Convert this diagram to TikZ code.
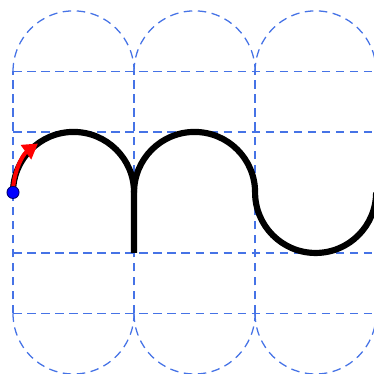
\documentclass[tikz,border=0pt]{standalone}
\usetikzlibrary{arrows.meta}
\definecolor{gridblue}{RGB}{70,115,230}
\tikzset{
  guide/.style={draw=gridblue, line width=0.6pt, dash pattern=on 4pt off 2.6pt},
  stroke/.style={draw=black, line width=2.9pt},
  arrowstroke/.style={draw=red, line width=1.9pt, -{Triangle[length=7pt,width=8pt]}},
}
\begin{document}
\begin{tikzpicture}
\useasboundingbox (-0.215,-3.0) rectangle (5.95,3.18);
% guide grid
\foreach \x in {0,2,4,6} \draw[guide] (\x,-2) -- (\x,2);
\foreach \y in {-2,-1,1,2} \draw[guide] (0,\y) -- (6,\y);
\foreach \x in {0,2,4} {
  \draw[guide] (\x,2) arc[start angle=180, end angle=0, radius=1];
  \draw[guide] (\x,-2) arc[start angle=180, end angle=360, radius=1];
}
% main stroke
\draw[stroke] (0,0) arc[start angle=180, end angle=0, radius=1] -- (2,-1);
\draw[stroke] (2,0) arc[start angle=180, end angle=0, radius=1]
  arc[start angle=180, end angle=360, radius=1];
% red arrow
\draw[arrowstroke] (0,0) arc[start angle=180, end angle=126, radius=1];
% start dot
\fill[blue, draw=black!60!blue, line width=0.4pt] (0,0) circle[radius=0.1];
\end{tikzpicture}
\end{document}
